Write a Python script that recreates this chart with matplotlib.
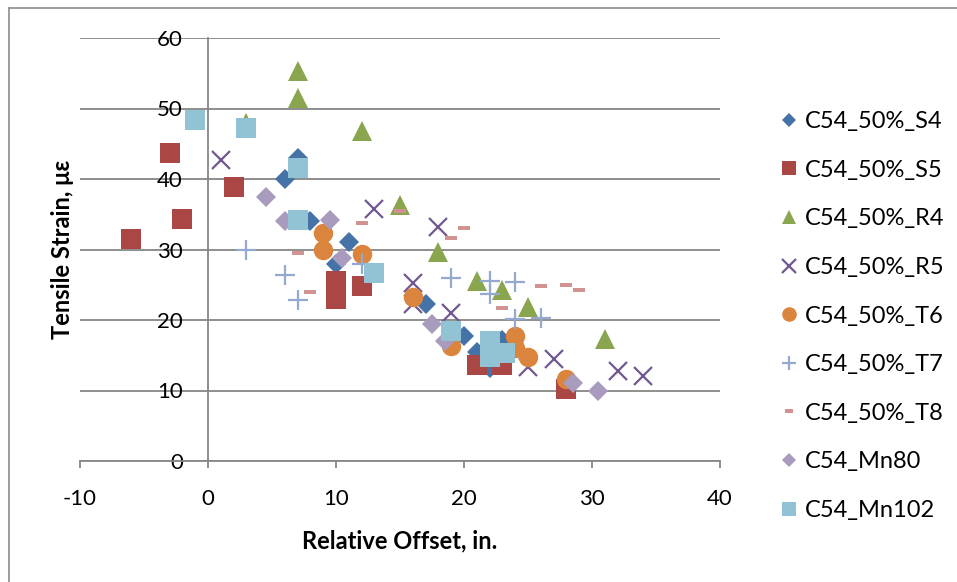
import matplotlib

matplotlib.use("Agg")
import matplotlib.pyplot as plt
from matplotlib.lines import Line2D
from matplotlib.path import Path

plt.rcParams["font.family"] = ["Lato", "DejaVu Sans"]
plt.rcParams["axes.unicode_minus"] = False

# values
s4_x = [6, 7, 8, 10, 11, 17, 20, 21, 22, 23]
s4_y = [40, 43, 34, 28, 31, 22.2, 17.7, 15.5, 13.2, 17.1]
s5_x = [-6, -3, -2, 2, 10, 10, 12, 21, 23, 28]
s5_y = [31.5, 43.7, 34.3, 38.8, 25.5, 23, 24.8, 13.6, 13.6, 10.2]
r4_x = [3, 7, 7, 12, 15, 18, 21, 23, 25, 31]
r4_y = [48, 55.3, 51.5, 46.8, 36.3, 29.7, 25.6, 24.2, 21.8, 17.3]
r5_x = [1, 13, 18, 16, 16, 19, 25, 27, 32, 34]
r5_y = [42.7, 35.8, 33.2, 25.2, 22.3, 21, 13.3, 14.4, 12.8, 12]
t6_x = [9, 9, 12, 16, 19, 24, 24, 25, 28]
t6_y = [32.3, 30, 29.3, 23.3, 16.3, 17.8, 16, 14.8, 11.6]
t7_x = [3, 6, 7, 12, 19, 22, 22, 24, 24, 26]
t7_y = [30, 26.4, 22.8, 28, 26, 25.6, 23.7, 25.4, 20.1, 20.3]
t8_x = [7, 8, 12, 15, 19, 20, 23, 26, 28, 29]
t8_y = [29.5, 24, 33.8, 35.4, 31.6, 33, 21.7, 24.8, 25, 24.2]
mn80_x = [4.5, 6, 9.5, 10.5, 17.5, 18.5, 28.5, 30.5]
mn80_y = [37.4, 34, 34.2, 28.8, 19.5, 17, 11, 10]
mn102_x = [-1, 3, 7, 7, 13, 19, 22, 22, 23.2]
mn102_y = [48.3, 47.2, 41.5, 34.2, 26.7, 18.5, 17, 14.8, 15.3]

dash = Path([(-1, -0.42), (1, -0.42), (1, 0.42), (-1, 0.42), (-1, -0.42)],
            [Path.MOVETO, Path.LINETO, Path.LINETO, Path.LINETO, Path.CLOSEPOLY])

series = [
    ("C54_50%_S4", s4_x, s4_y, "D", 10, "#4572A7"),
    ("C54_50%_S5", s5_x, s5_y, "s", 14, "#AA4643"),
    ("C54_50%_R4", r4_x, r4_y, "^", 14, "#89A54E"),
    ("C54_50%_R5", r5_x, r5_y, "x", 13, "#71588F"),
    ("C54_50%_T6", t6_x, t6_y, "o", 14, "#DB843D"),
    ("C54_50%_T7", t7_x, t7_y, "+", 14, "#93A9CF"),
    ("C54_50%_T8", t8_x, t8_y, dash, 8, "#D19392"),
    ("C54_Mn80", mn80_x, mn80_y, "D", 10, "#A99BBD"),
    ("C54_Mn102", mn102_x, mn102_y, "s", 14, "#92C3D5"),
]

GRID = "#868686"

fig = plt.figure(figsize=(9.57, 5.82), dpi=100)
ax = fig.add_axes([80 / 957, 1 - 461 / 582, 640 / 957, 423 / 582])

for name, xs, ys, mk, ms, col in series:
    line_marker = mk in ("x", "+")
    ax.plot(xs, ys, linestyle="none", marker=mk, markersize=ms,
            color=col, markerfacecolor=col,
            markeredgecolor=col, markeredgewidth=1.6 if line_marker else 0,
            label=name, zorder=3)

ax.set_xlim(-10, 40)
ax.set_ylim(0, 60)
ax.set_xticks(range(-10, 41, 10))
ax.set_yticks(range(0, 61, 10))

for side in ("top", "right"):
    ax.spines[side].set_visible(False)
ax.spines["left"].set_position(("data", 0))
ax.spines["left"].set_color(GRID)
ax.spines["left"].set_linewidth(1.3)
ax.spines["bottom"].set_color(GRID)
ax.spines["bottom"].set_linewidth(1.3)
ax.yaxis.grid(True, color=GRID, linewidth=1.3, zorder=0)
ax.set_axisbelow(True)

ax.tick_params(axis="y", length=0, pad=18, labelsize=16)
ax.tick_params(axis="x", direction="out", length=5, width=1.3, color=GRID,
               pad=15, labelsize=16)

ax.set_xlabel("Relative Offset, in.", fontsize=17, fontweight="bold")
ax.xaxis.set_label_coords(0.5, -0.19)
ax.xaxis.label.set_va("center")
ax.set_ylabel("Tensile Strain, με", fontsize=17, fontweight="bold")
ax.yaxis.set_label_coords(-0.028, 0.5)
ax.yaxis.label.set_va("center")

fig.legend(loc="upper left", bbox_to_anchor=(778 / 957, 1 - 111 / 582),
           frameon=False, fontsize=17, markerscale=0.75, handlelength=0.95,
           handletextpad=0.2, labelspacing=1.17, borderpad=0, borderaxespad=0)

# chart area border (only left and top fall inside the picture)
fig.add_artist(Line2D([9 / 957, 9 / 957], [0, 1 - 8 / 582], color="#8c8c8c",
                      linewidth=1.2, transform=fig.transFigure))
fig.add_artist(Line2D([9 / 957, 1], [1 - 8 / 582, 1 - 8 / 582], color="#8c8c8c",
                      linewidth=1.2, transform=fig.transFigure))

fig.savefig("out.png", dpi=100)
plt.close(fig)
